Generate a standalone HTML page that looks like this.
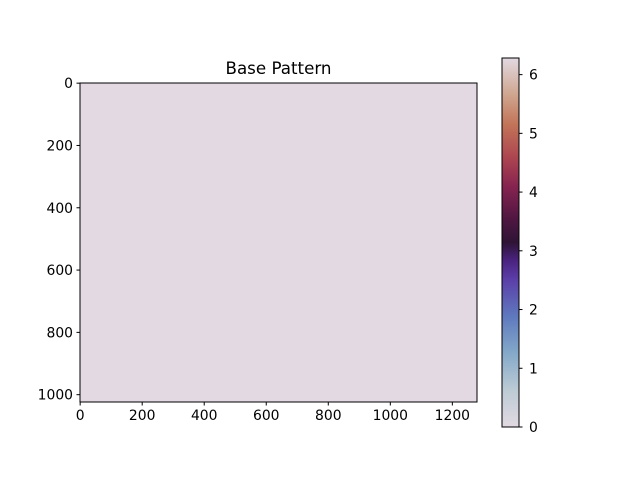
<!DOCTYPE html>
<html><head><meta charset="utf-8"><style>
body{margin:0;background:#fff;}
svg text{font-family:"DejaVu Sans","Liberation Sans",sans-serif;font-size:13.9px;fill:#000;}
</style></head><body>
<svg width="640" height="480">
<defs>
<linearGradient id="tw" x1="0" y1="1" x2="0" y2="0">
<stop offset="0" stop-color="#e2d9e2"/>
<stop offset="0.1" stop-color="#bccbd5"/>
<stop offset="0.2" stop-color="#84a9c9"/>
<stop offset="0.3" stop-color="#5e79be"/>
<stop offset="0.4" stop-color="#5b3ea8"/>
<stop offset="0.45" stop-color="#4a2381"/>
<stop offset="0.5" stop-color="#2f1436"/>
<stop offset="0.56" stop-color="#4d1640"/>
<stop offset="0.65" stop-color="#852350"/>
<stop offset="0.73" stop-color="#ad4550"/>
<stop offset="0.82" stop-color="#c27459"/>
<stop offset="0.9" stop-color="#cfa58e"/>
<stop offset="1" stop-color="#e2d9e2"/>
</linearGradient>
</defs>
<text x="278.5" y="74" text-anchor="middle" style="font-size:16.7px">Base Pattern</text>
<rect x="80" y="83" width="397" height="319" fill="#e2d9e2" stroke="#000" stroke-width="1"/>
<g id="xt"></g>
<g id="yt"></g>
<rect x="502" y="58" width="17" height="369" fill="url(#tw)" stroke="#000" stroke-width="1"/>
<g id="ct"></g>
</svg>
<script>
const xTicks=[0,200,400,600,800,1000,1200];
const yTicks=[0,200,400,600,800,1000];
const cTicks=[0,1,2,3,4,5,6];
const imgW=1280, imgH=1024, cMax=6.283;
const ns="http://www.w3.org/2000/svg";
function mk(t,a,p){const e=document.createElementNS(ns,t);for(const k in a)e.setAttribute(k,a[k]);p.appendChild(e);return e;}
const xs=v=>80+(v+0.5)/imgW*397, ys=v=>83+(v+0.5)/imgH*319, cs=v=>427-v/cMax*369;
const xg=document.getElementById('xt'),yg=document.getElementById('yt'),cg=document.getElementById('ct');
xTicks.forEach(v=>{const x=xs(v);
const l=mk('line',{x1:x,x2:x,y1:402,y2:405.5,stroke:'#000'},xg);


const t=mk('text',{x:x,y:420,'text-anchor':'middle'},xg);t.textContent=v;

});
yTicks.forEach(v=>{const y=ys(v);
const l=mk('line',{x1:76.5,x2:80,y1:y,y2:y,stroke:'#000'},yg);


const t=mk('text',{x:73,y:y+5,'text-anchor':'end'},yg);t.textContent=v;

});
cTicks.forEach(v=>{const y=cs(v);
const l=mk('line',{x1:519,x2:522.5,y1:y,y2:y,stroke:'#000'},cg);


const t=mk('text',{x:529,y:y+5},cg);t.textContent=v;

});
</script>
</body></html>
